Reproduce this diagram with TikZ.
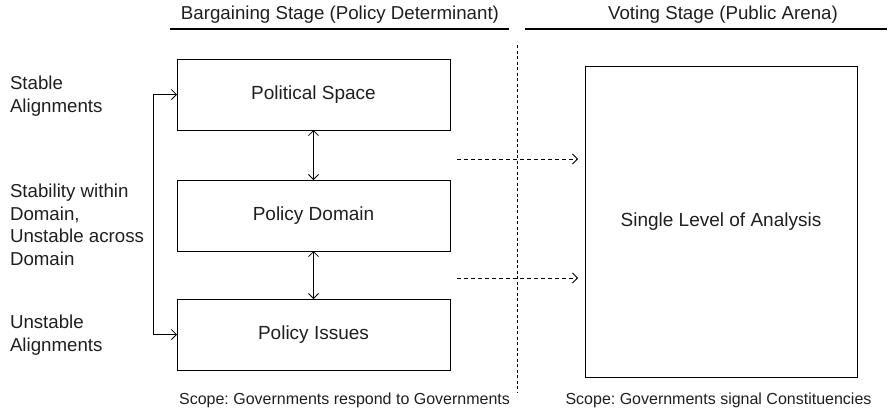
\documentclass[tikz,border=0pt]{standalone}
\usepackage{fontspec}
\setmainfont{Liberation Sans}
\usetikzlibrary{arrows.meta}
\frenchspacing
\begin{document}
\begin{tikzpicture}[x=1pt,y=-1pt,
  >={Straight Barb[length=5pt,width=10pt]},
  every node/.style={inner sep=0pt,outer sep=0pt,text=black!88},
  boxnode/.style={draw,line width=0.9pt,minimum width=273pt,minimum height=71pt,font=\fontsize{19}{23}\selectfont},
  lab/.style={anchor=west,align=left,font=\fontsize{18.7}{22.5}\selectfont},
  head/.style={font=\fontsize{18.7}{22}\selectfont},
  scope/.style={font=\fontsize{16}{20}\selectfont},
  conn/.style={line width=0.8pt,<->},
  dashconn/.style={line width=0.8pt,->,dash pattern=on 4pt off 3pt},
  sep/.style={line width=0.8pt,dash pattern=on 3pt off 2.5pt},
  rule/.style={line width=1.6pt}]
\useasboundingbox (0,0) rectangle (889,413);
% headers
\node[head] (h1) at (340,15) {Bargaining Stage (Policy Determinant)};
\node[head] (h2) at (723,15) {Voting Stage (Public Arena)};
\coordinate (u1a) at (170,29); \coordinate (u1b) at (509,29);
\coordinate (u2a) at (525,29); \coordinate (u2b) at (887,29);
\draw[rule] (u1a) -- (u1b);
\draw[rule] (u2a) -- (u2b);
% separator
\coordinate (sa) at (517,45); \coordinate (sb) at (517,393);
\draw[sep] (sa) -- (sb);
% boxes
\node[boxnode] (ps) at (313.5,94.5) {Political Space};
\node[boxnode] (pd) at (313.5,215.5) {Policy Domain};
\node[boxnode] (pi) at (313.5,334.5) {Policy Issues};
\node[boxnode,minimum width=272pt,minimum height=311pt] (sl) at (721,221.5) {Single Level of Analysis};
% vertical arrows
\draw[conn] (ps.south) -- (pd.north);
\draw[conn] (pd.south) -- (pi.north);
% left bracket
\coordinate (bx) at (153,0);
\draw[conn] (ps.west) -- (ps.west -| bx) -- (pi.west -| bx) -- (pi.west);
% dashed arrows
\coordinate (d1s) at (457,159); \coordinate (d1e) at (578,159);
\coordinate (d2s) at (457,278); \coordinate (d2e) at (578,278);
\draw[dashconn] (d1s) -- (d1e);
\draw[dashconn] (d2s) -- (d2e);
% left labels
\node[lab] (l1) at (10,96) {Stable\\Alignments};
\node[lab] (l2) at (10,225) {Stability within\\Domain,\\Unstable across\\Domain};
\node[lab] (l3) at (10,335) {Unstable\\Alignments};
% scope texts
\node[scope] (s1) at (344.5,400) {Scope: Governments respond to Governments};
\node[scope] (s2) at (718.5,400) {Scope: Governments signal Constituencies};
\end{tikzpicture}
\end{document}
